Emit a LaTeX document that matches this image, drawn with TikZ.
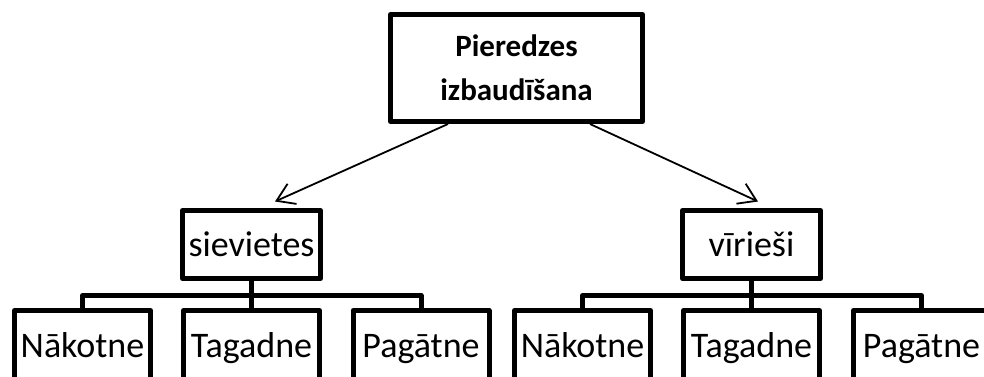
\documentclass[tikz,border=0pt]{standalone}
\usepackage{fontspec}
\setmainfont{Carlito}
\usetikzlibrary{arrows.meta,calc}
\begin{document}
\begin{tikzpicture}[x=1pt,y=-1pt,
  box/.style={draw, line width=5pt, line join=round, inner sep=0pt, rectangle},
  conn/.style={line width=5pt, line join=round},
  arr/.style={line width=1.8pt, -{Straight Barb[length=17pt,width=22pt,line width=1.8pt]}},
  mid/.style={box, minimum width=138pt, minimum height=68pt, font=\fontsize{36}{43}\selectfont},
  child/.style={box, minimum width=136pt, minimum height=100pt},
  lbl/.style={font=\fontsize{36}{43}\selectfont, anchor=base, inner sep=0pt}]
\useasboundingbox (0,0) rectangle (984,376);
\clip (0,0) rectangle (984,376);
% top
\node[box, minimum width=252pt, minimum height=107pt, align=center,
      font=\fontsize{31}{44}\selectfont\bfseries] (top) at (516.5,68) {Pieredzes\\izbaudīšana};
% middle
\node[mid] (sv) at (251.5,244.5) {sievietes};
\node[mid] (vi) at (751.5,244.5) {vīrieši};
% children
\node[child] (s1) at (82.5,360.5) {};
\node[child] (s2) at (251.5,360.5) {};
\node[child] (s3) at (421,360.5) {};
\node[child] (v1) at (582.5,360.5) {};
\node[child] (v2) at (751.5,360.5) {};
\node[child] (v3) at (921.5,360.5) {};
\node[lbl] (ls1) at (82.5,357) {Nākotne};
\node[lbl] (ls2) at (251.5,357) {Tagadne};
\node[lbl] (ls3) at (421,357) {Pagātne};
\node[lbl] (lv1) at (582.5,357) {Nākotne};
\node[lbl] (lv2) at (751.5,357) {Tagadne};
\node[lbl] (lv3) at (921.5,357) {Pagātne};
% bars
\coordinate (bar) at (0,295.5);
\draw[conn] (sv.south) -- (sv.south |- bar);
\draw[conn] (s1.north) -- (s1.north |- bar) -- (s3.north |- bar) -- (s3.north);
\draw[conn] (s2.north) -- (s2.north |- bar);
\draw[conn] (vi.south) -- (vi.south |- bar);
\draw[conn] (v1.north) -- (v1.north |- bar) -- (v3.north |- bar) -- (v3.north);
\draw[conn] (v2.north) -- (v2.north |- bar);
% arrows
\draw[arr] ($(top.south)+(-68.5,0)$) -- ($(sv.north)+(23.5,-6.5)$);
\draw[arr] ($(top.south)+(73.5,0)$) -- ($(vi.north)+(6.5,-6.5)$);
\end{tikzpicture}
\end{document}
